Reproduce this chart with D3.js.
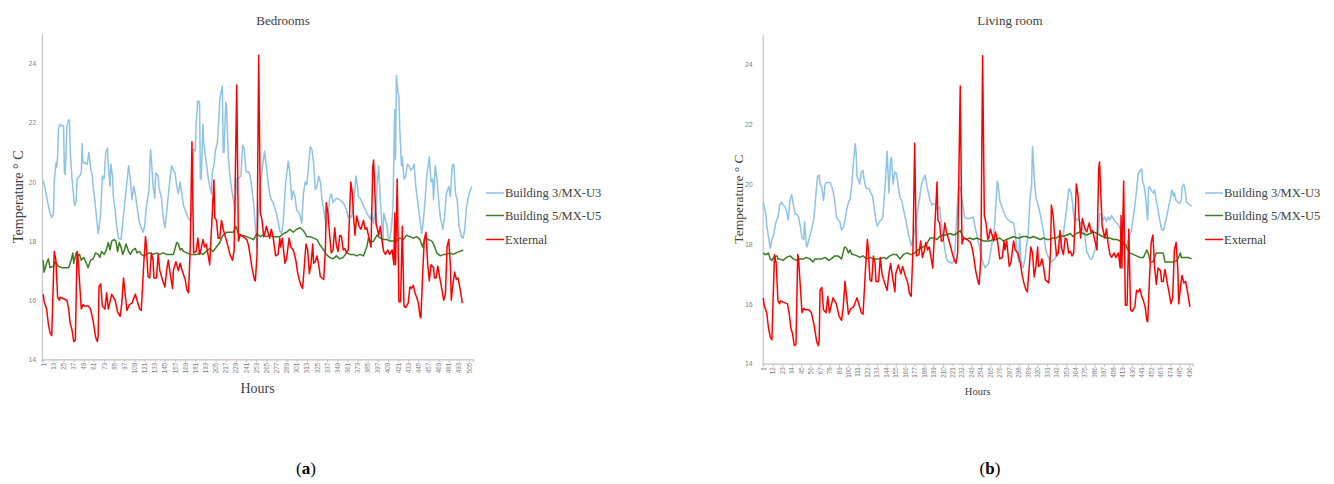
<!DOCTYPE html>
<html>
<head>
<meta charset="utf-8">
<script src="https://cdn.jsdelivr.net/npm/d3@7"></script>
<style>
  body { margin: 0; background: #fff; }
  svg { display: block; }
</style>
</head>
<body>
<svg id="chart" width="1334" height="484"></svg>
<script>
// hourly temperatures, [hour, °C]
const externalTemp = [[1,16.2],[2,15.95],[5,15.7],[7,15.2],[9,14.9],[11,14.8],[14,17.65],[16,17.35],[18,16.1],[20,16.0],[21,16.1],[25,16.05],[29,16.0],[31,15.7],[33,15.2],[35,15.0],[37,14.6],[39,14.65],[41,17.65],[42,17.5],[44,16.6],[46,15.7],[48,15.85],[50,15.8],[54,15.8],[57,15.7],[60,15.3],[63,14.75],[65,14.6],[66,14.8],[67,16.45],[69,16.55],[71,15.8],[74,15.7],[76,16.25],[78,15.7],[82,16.2],[86,16.0],[89,15.6],[92,15.45],[94,15.9],[96,16.75],[98,16.2],[100,15.65],[103,15.85],[106,15.9],[110,16.2],[112,16.0],[115,15.7],[117,15.65],[120,17.25],[122,18.15],[123,17.85],[125,16.8],[127,16.75],[129,17.6],[131,17.35],[132,16.75],[135,16.75],[137,17.55],[139,17.0],[142,16.7],[145,16.45],[147,17.0],[149,17.35],[151,16.95],[154,16.4],[155,17.0],[158,17.3],[161,17.0],[163,17.25],[166,16.95],[169,16.7],[171,16.35],[173,16.25],[175,17.8],[177,21.36],[179,17.6],[182,17.65],[184,18.1],[186,17.55],[188,17.75],[190,18.05],[192,17.8],[194,17.9],[198,17.2],[201,18.9],[203,20.07],[204,18.8],[206,18.7],[208,18.1],[210,18.1],[212,18.7],[214,18.4],[218,18.0],[222,17.55],[225,17.35],[227,17.7],[230,23.28],[232,18.0],[234,18.2],[238,18.15],[242,18.05],[244,17.85],[246,17.5],[248,17.1],[251,16.7],[252,16.65],[254,17.5],[256,24.29],[258,18.95],[260,18.7],[262,18.15],[263,18.2],[265,18.5],[269,18.1],[271,18.4],[273,18.15],[276,17.5],[279,17.55],[281,18.1],[282,17.8],[284,18.1],[287,17.25],[289,17.4],[292,18.1],[294,17.8],[297,17.7],[300,17.35],[302,16.95],[304,16.7],[306,16.5],[308,16.4],[310,17.15],[312,17.9],[314,17.7],[316,16.9],[318,17.25],[320,17.9],[321,17.25],[323,17.3],[325,17.5],[327,17.2],[329,16.8],[333,16.7],[335,17.75],[336,19.3],[338,18.95],[340,18.2],[342,17.6],[344,17.7],[346,18.45],[348,17.85],[350,17.65],[352,18.2],[354,18.15],[356,17.7],[358,17.75],[360,17.6],[362,17.7],[365,20.0],[367,19.6],[368,18.95],[370,18.2],[372,18.85],[375,18.5],[377,18.4],[380,18.7],[382,18.4],[384,18.45],[387,18.05],[389,17.8],[391,20.5],[392,20.74],[395,18.6],[398,18.2],[400,18.5],[402,18.0],[404,17.65],[406,17.55],[409,17.7],[411,17.55],[414,17.7],[416,17.2],[417,18.95],[418,17.2],[420,20.1],[422,15.95],[424,15.95],[426,18.5],[428,15.8],[430,15.75],[433,15.9],[435,16.45],[437,16.4],[439,16.5],[441,16.25],[443,16.1],[445,15.9],[447,15.45],[448,15.4],[450,16.8],[452,18.05],[454,18.3],[456,17.25],[458,16.65],[460,17.2],[463,17.1],[464,16.75],[466,16.75],[468,17.15],[471,16.65],[473,16.35],[475,16.0],[477,16.2],[479,17.8],[481,18.05],[483,17.15],[484,16.0],[486,16.55],[488,16.95],[490,16.7],[492,16.75],[494,16.45],[496,16.1],[497,15.9]];

const bedroomU3 = [[1,20.05],[3,19.8],[5,19.5],[7,19.2],[9,18.95],[11,18.8],[13,18.9],[14,20.0],[16,20.65],[17,20.5],[18,20.85],[19,21.8],[21,21.95],[23,21.9],[25,21.9],[26,20.3],[27,20.25],[29,21.9],[31,22.1],[32,22.1],[33,21.0],[35,20.1],[37,19.5],[38,19.2],[40,19.35],[41,20.1],[44,20.2],[46,20.3],[47,21.3],[48,20.65],[50,20.65],[53,20.6],[55,21.0],[57,20.5],[59,20.2],[60,19.85],[62,19.4],[64,18.8],[66,18.25],[67,18.45],[69,18.95],[71,20.2],[73,20.1],[75,21.0],[77,21.15],[78,20.55],[80,19.85],[81,20.6],[83,20.2],[84,19.5],[86,19.05],[88,18.5],[90,18.1],[93,18.05],[95,18.6],[98,19.45],[100,20.0],[102,20.55],[104,20.1],[106,19.4],[108,19.85],[110,19.6],[112,19.15],[115,18.6],[119,18.3],[121,18.5],[123,19.15],[126,19.7],[128,21.1],[129,20.75],[131,19.85],[133,19.45],[134,20.3],[137,20.2],[138,19.8],[141,19.45],[143,18.8],[145,18.45],[147,18.95],[149,19.55],[151,20.1],[153,20.55],[155,20.4],[157,20.3],[159,19.85],[161,19.6],[163,20.0],[165,19.6],[167,19.2],[171,18.9],[173,18.75],[175,18.7],[177,19.0],[178,20.55],[179,21.1],[181,21.05],[182,22.0],[184,22.75],[186,22.7],[187,20.1],[188,20.1],[190,21.95],[191,21.3],[194,20.65],[196,20.2],[198,19.85],[200,19.6],[201,20.3],[203,20.55],[205,21.1],[207,21.3],[209,22.2],[210,22.8],[213,23.25],[214,21.0],[215,21.0],[217,22.7],[218,22.55],[220,20.85],[222,20.2],[224,19.75],[226,19.4],[228,18.95],[230,20.1],[233,20.15],[235,20.2],[237,21.25],[239,21.1],[241,20.35],[244,20.35],[246,20.2],[248,19.75],[250,19.3],[252,18.5],[254,17.8],[256,18.95],[258,20.0],[260,20.4],[263,21.05],[265,20.55],[267,20.0],[269,19.6],[271,19.4],[273,19.3],[277,18.95],[281,18.35],[283,18.25],[285,18.6],[288,20.0],[291,20.7],[293,20.3],[295,19.4],[297,19.7],[299,19.5],[301,19.05],[304,18.95],[307,18.6],[309,19.6],[311,20.0],[313,19.9],[315,20.55],[317,21.2],[319,21.1],[321,20.65],[323,19.75],[325,19.85],[327,20.2],[329,20.0],[331,19.4],[333,19.05],[335,18.7],[336,18.45],[338,18.8],[340,19.45],[342,19.6],[344,19.3],[348,19.45],[352,19.4],[356,19.3],[360,19.05],[362,18.8],[364,18.85],[366,18.8],[368,19.15],[370,19.75],[371,20.2],[373,19.85],[374,19.5],[376,19.45],[380,19.2],[384,18.95],[388,18.75],[390,18.95],[392,18.6],[394,19.05],[395,18.5],[396,19.85],[398,20.55],[400,19.4],[402,18.5],[403,17.8],[404,18.95],[408,18.5],[409,18.15],[411,18.05],[413,18.4],[415,19.15],[417,22.45],[418,20.75],[419,23.6],[421,23.0],[422,22.9],[423,21.8],[425,20.55],[426,20.85],[428,20.1],[430,20.2],[432,20.6],[434,20.55],[436,20.4],[438,20.45],[440,20.6],[442,19.85],[443,19.6],[445,19.15],[447,18.7],[449,18.25],[451,18.7],[453,19.4],[455,20.2],[458,20.85],[460,20.0],[462,20.1],[463,19.4],[465,20.55],[467,20.1],[469,19.4],[471,18.8],[474,18.4],[476,18.8],[478,19.6],[481,19.85],[483,19.5],[485,20.55],[487,20.6],[489,19.6],[491,19.4],[493,18.6],[494,18.4],[496,18.15],[498,18.1],[500,18.4],[502,19.15],[505,19.6],[508,19.85]];

const bedroomU5 = [[1,17.35],[2,16.95],[5,17.25],[7,17.4],[9,17.1],[13,17.15],[15,17.3],[19,17.15],[23,17.1],[27,17.1],[31,17.1],[34,17.35],[36,17.6],[37,17.25],[40,17.6],[42,17.5],[44,17.55],[46,17.35],[49,17.45],[52,17.25],[54,17.1],[57,17.35],[60,17.4],[63,17.6],[66,17.55],[68,17.45],[70,17.65],[73,17.55],[75,17.65],[78,17.95],[80,17.7],[82,18.0],[85,18.05],[87,18.0],[89,17.65],[91,17.95],[93,17.8],[95,17.55],[97,17.7],[99,17.9],[102,17.65],[104,17.55],[107,17.7],[110,17.75],[112,17.6],[115,17.65],[117,17.55],[120,17.5],[123,17.55],[127,17.6],[131,17.55],[135,17.6],[139,17.55],[143,17.6],[147,17.55],[151,17.55],[155,17.55],[159,17.95],[161,17.9],[163,17.7],[165,17.75],[167,17.65],[171,17.6],[175,17.55],[179,17.55],[183,17.55],[186,17.6],[190,17.55],[194,17.65],[198,17.75],[202,17.65],[206,17.8],[210,17.95],[212,18.1],[214,18.2],[218,18.3],[222,18.3],[226,18.3],[229,18.5],[232,18.25],[236,18.2],[242,18.15],[246,18.1],[250,18.05],[254,18.25],[258,18.15],[261,18.2],[265,18.15],[269,18.2],[273,18.15],[277,18.15],[281,18.15],[285,18.25],[289,18.3],[293,18.4],[297,18.3],[301,18.4],[305,18.45],[309,18.35],[313,18.15],[317,18.15],[321,18.1],[325,18.05],[329,17.85],[333,17.7],[336,17.55],[340,17.45],[344,17.4],[348,17.5],[352,17.4],[356,17.45],[360,17.6],[364,17.55],[368,17.55],[372,17.5],[376,17.55],[380,17.5],[384,17.8],[386,18.1],[388,17.95],[392,18.0],[396,18.2],[400,18.1],[404,18.05],[408,18.05],[411,18.0],[415,18.0],[419,18.0],[423,18.1],[427,18.05],[431,18.2],[435,18.15],[439,18.1],[443,18.15],[447,18.05],[450,17.8],[453,18.1],[457,18.05],[461,18.0],[463,17.9],[467,17.6],[471,17.5],[475,17.55],[478,17.55],[482,17.6],[486,17.55],[490,17.6],[494,17.65],[498,17.7]];

const livingU3 = [[1,19.4],[2,19.25],[4,19.0],[5,18.6],[7,18.25],[9,17.85],[11,18.15],[13,18.3],[15,18.65],[16,18.75],[18,18.9],[20,19.3],[22,19.4],[24,19.3],[26,19.25],[28,19.1],[30,18.8],[32,19.45],[34,19.65],[36,19.3],[38,19.0],[40,19.0],[42,18.9],[44,18.6],[46,18.2],[48,18.15],[49,18.75],[51,17.95],[52,17.9],[54,18.15],[56,18.35],[58,18.6],[60,18.9],[62,19.6],[64,20.25],[66,20.3],[67,20.0],[69,19.9],[71,19.45],[73,20.0],[75,20.05],[79,20.05],[80,19.95],[82,19.8],[84,19.45],[86,18.9],[88,18.8],[90,18.75],[92,18.45],[94,18.55],[96,18.8],[98,19.15],[100,19.4],[102,19.5],[104,20.0],[106,20.8],[108,21.35],[109,21.0],[110,20.25],[112,20.1],[113,20.0],[115,20.4],[117,20.45],[118,20.2],[120,19.9],[122,19.85],[124,19.85],[126,19.7],[128,19.6],[130,19.2],[132,18.75],[134,18.6],[136,18.75],[138,18.8],[140,18.9],[142,19.7],[144,20.55],[145,21.1],[147,19.7],[149,20.8],[150,20.9],[152,20.0],[154,20.4],[156,20.35],[158,19.9],[160,19.55],[162,19.45],[164,19.15],[166,18.9],[168,18.6],[170,18.3],[173,17.95],[176,18.3],[179,18.8],[182,19.4],[185,20.0],[187,20.15],[189,20.3],[191,20.0],[193,19.7],[195,19.45],[197,19.3],[199,19.35],[201,19.3],[203,19.15],[205,19.2],[206,19.25],[208,18.7],[210,18.25],[212,17.85],[214,17.5],[216,17.4],[218,17.4],[220,17.35],[222,17.4],[224,17.8],[225,18.45],[227,19.45],[228,19.85],[230,19.9],[233,19.3],[235,18.9],[237,18.85],[241,18.85],[245,18.9],[247,18.6],[250,18.2],[253,17.8],[256,17.4],[259,17.2],[263,17.35],[266,17.85],[270,18.6],[273,20.1],[274,20.0],[276,19.45],[280,19.1],[284,18.85],[288,18.75],[292,18.7],[294,18.35],[296,17.75],[298,17.4],[299,18.35],[301,17.3],[303,17.2],[305,17.45],[307,17.9],[309,18.35],[311,19.45],[313,20.0],[314,21.25],[316,20.25],[318,19.55],[319,19.45],[321,19.25],[323,19.0],[325,18.7],[327,18.35],[329,17.9],[330,17.75],[332,17.6],[334,17.45],[336,17.4],[338,17.45],[340,17.5],[342,17.65],[344,17.8],[346,17.85],[348,18.2],[350,18.35],[352,18.8],[354,19.25],[356,19.8],[357,19.85],[359,19.7],[361,19.25],[362,18.9],[364,18.75],[365,18.85],[367,18.8],[369,18.75],[371,18.6],[373,18.45],[375,18.25],[377,17.75],[379,17.65],[381,17.5],[383,17.5],[385,17.65],[387,17.85],[389,18.2],[391,18.5],[392,19.0],[394,19.0],[396,18.8],[398,18.9],[400,18.75],[402,18.9],[404,18.8],[406,18.95],[408,18.85],[410,18.75],[412,18.7],[414,18.65],[416,18.5],[418,18.25],[420,18.0],[422,17.8],[423,17.9],[425,18.1],[427,18.3],[429,18.45],[431,18.85],[433,19.25],[435,19.8],[437,20.35],[439,20.45],[441,20.5],[442,20.1],[444,19.9],[446,19.45],[447,19.0],[448,18.8],[449,19.9],[450,19.9],[451,19.85],[453,19.75],[455,19.7],[456,19.8],[458,19.45],[460,19.15],[462,18.8],[464,18.5],[466,18.45],[468,18.65],[470,18.9],[472,19.2],[474,19.45],[476,19.8],[478,19.6],[479,19.7],[481,19.45],[483,19.4],[485,19.35],[487,19.45],[488,19.9],[490,20.0],[492,19.7],[493,19.4],[495,19.35],[497,19.3],[499,19.25]];

const livingU5 = [[1,17.7],[3,17.65],[5,17.65],[7,17.7],[9,17.5],[11,17.45],[13,17.55],[17,17.6],[18,17.5],[20,17.5],[24,17.45],[28,17.55],[32,17.6],[36,17.5],[40,17.45],[44,17.5],[48,17.5],[51,17.55],[55,17.5],[59,17.4],[61,17.5],[65,17.5],[69,17.5],[73,17.55],[77,17.45],[80,17.5],[84,17.6],[88,17.6],[92,17.5],[95,17.85],[96,17.9],[98,17.85],[100,17.7],[102,17.8],[104,17.65],[106,17.65],[110,17.6],[113,17.55],[117,17.6],[121,17.5],[125,17.55],[129,17.5],[133,17.5],[137,17.5],[141,17.55],[144,17.5],[148,17.6],[152,17.65],[154,17.65],[156,17.65],[160,17.5],[164,17.65],[168,17.7],[172,17.65],[175,17.65],[179,17.75],[183,17.85],[187,17.9],[191,18.0],[195,18.2],[199,18.2],[203,18.15],[206,18.25],[210,18.3],[214,18.3],[218,18.35],[222,18.3],[226,18.35],[230,18.45],[232,18.3],[234,18.2],[237,18.15],[241,18.2],[245,18.15],[249,18.2],[253,18.15],[257,18.1],[261,18.1],[265,18.1],[268,18.15],[272,18.15],[276,18.2],[280,18.1],[284,18.15],[288,18.2],[292,18.25],[296,18.2],[299,18.2],[303,18.25],[307,18.25],[311,18.2],[315,18.25],[319,18.2],[323,18.15],[327,18.2],[330,18.15],[334,18.15],[338,18.2],[342,18.2],[346,18.3],[350,18.25],[354,18.3],[358,18.35],[361,18.25],[365,18.35],[369,18.4],[373,18.35],[377,18.3],[381,18.35],[385,18.4],[389,18.35],[392,18.3],[396,18.25],[400,18.2],[404,18.2],[408,18.15],[412,18.15],[416,18.1],[420,18.0],[423,17.95],[425,17.8],[427,17.7],[431,17.65],[435,17.6],[439,17.55],[443,17.55],[447,17.8],[449,17.65],[451,17.4],[454,17.4],[458,17.7],[462,17.7],[466,17.7],[468,17.4],[474,17.4],[478,17.4],[482,17.45],[486,17.7],[487,17.55],[491,17.55],[495,17.55],[499,17.5]];

const seriesNames = ['Building 3/MX-U3', 'Building 5/MX-U5', 'External'];
const seriesColors = ['#8ec3e6', '#3b7d23', '#ff0000'];
const yTicks = [14, 16, 18, 20, 22, 24];
const bedroomHourTicks = d3.range(1, 506, 12);
const livingHourTicks = d3.range(1, 497, 11);

const svg = d3.select('#chart');
const serif = '"Liberation Serif", "DejaVu Serif", serif';
const sans = '"Liberation Sans", Arial, sans-serif';

function drawPanel(p) {
  const g = svg.append('g');
  const x = d3.scaleLinear().domain(p.xDomain).range([p.left, p.right]);
  const y = d3.scaleLinear().domain([14, 25]).range([p.bottom, p.top]);

  // y axis: line and labels only
  const ya = g.append('g')
      .attr('transform', `translate(${p.left},0)`)
      .call(d3.axisLeft(y).tickValues(yTicks).tickSize(0).tickPadding(p.yPad));
  ya.select('.domain').attr('stroke', '#c4c4c4').attr('stroke-width', 1.2);
  ya.selectAll('text').attr('fill', '#7f7f7f').style('font-family', sans).style('font-size', p.yTickSize + 'px');

  const xa = g.append('g')
      .attr('transform', `translate(0,${p.bottom})`)
      .call(d3.axisBottom(x).tickValues(p.ticks).tickSize(3));
  xa.select('.domain').attr('stroke', '#c4c4c4').attr('stroke-width', 1.2);
  xa.selectAll('.tick line').attr('stroke', '#c4c4c4');
  xa.selectAll('text')
      .attr('fill', '#7f7f7f')
      .style('font-family', sans).style('font-size', '6.3px')
      .attr('transform', 'rotate(-90)')
      .attr('x', -3.5).attr('y', 0).attr('dy', '0.32em')
      .style('text-anchor', 'end');

  const line = d3.line().x(d => x(d[0])).y(d => y(d[1]));
  p.series.forEach((s, i) => {
    g.append('path')
        .datum(s)
        .attr('d', line)
        .attr('fill', 'none')
        .attr('stroke', seriesColors[i])
        .attr('stroke-width', 1.5)
        .attr('stroke-linejoin', 'round');
  });

  g.append('text')
      .attr('x', p.titleX).attr('y', 25)
      .attr('text-anchor', 'middle')
      .style('font-family', serif).style('font-size', '13px')
      .attr('fill', '#404040')
      .text(p.title);

  g.append('text')
      .attr('transform', `translate(${p.yLabelX},${(p.top + p.bottom) / 2}) rotate(-90)`)
      .attr('text-anchor', 'middle')
      .attr('dy', '0.35em')
      .style('font-family', serif).style('font-size', p.yLabelSize + 'px')
      .attr('fill', '#404040')
      .text('Temperature ° C');

  g.append('text')
      .attr('x', (p.left + p.right) / 2).attr('y', p.hoursY)
      .attr('text-anchor', 'middle')
      .style('font-family', serif).style('font-size', p.hoursSize + 'px')
      .attr('fill', '#404040')
      .text('Hours');

  const legendY = [193, 215.5, 239.5];
  seriesNames.forEach((name, i) => {
    g.append('line')
        .attr('x1', p.legendX).attr('x2', p.legendX + 18)
        .attr('y1', legendY[i]).attr('y2', legendY[i])
        .attr('stroke', seriesColors[i]).attr('stroke-width', 1.5);
    g.append('text')
        .attr('x', p.legendX + 19).attr('y', legendY[i])
        .attr('dy', '0.35em')
        .style('font-family', serif).style('font-size', '12.5px')
        .attr('fill', '#404040')
        .text(name);
  });

  const cap = g.append('text')
      .attr('x', p.captionX).attr('y', 474)
      .attr('text-anchor', 'middle')
      .style('font-family', serif).style('font-size', '17px')
      .attr('fill', '#000');
  cap.append('tspan').text('(');
  cap.append('tspan').style('font-weight', 'bold').text(p.caption);
  cap.append('tspan').text(')');
}

drawPanel({
  left: 42, right: 473, top: 34.2, bottom: 359.3,
  xDomain: [-0.5, 509.7], ticks: bedroomHourTicks, yPad: 6, yTickSize: 6.5,
  series: [bedroomU3, bedroomU5, externalTemp],
  title: 'Bedrooms', titleX: 283,
  yLabelX: 18, yLabelSize: 14,
  hoursY: 393, hoursSize: 14,
  legendX: 486, caption: 'a', captionX: 306
});

drawPanel({
  left: 762.7, right: 1192.7, top: 34.4, bottom: 363.7,
  xDomain: [0.3, 500.3], ticks: livingHourTicks, yPad: 10, yTickSize: 7,
  series: [livingU3, livingU5, externalTemp],
  title: 'Living room', titleX: 1010,
  yLabelX: 738, yLabelSize: 13.5,
  hoursY: 395, hoursSize: 10.5,
  legendX: 1205, caption: 'b', captionX: 990
});
</script>
</body>
</html>
